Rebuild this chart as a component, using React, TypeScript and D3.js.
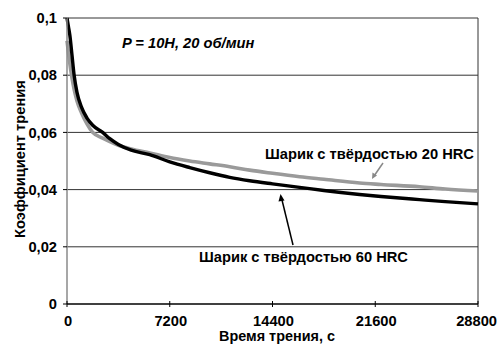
import React from 'react';
import * as d3 from 'd3';

// Friction test, P = 10 N, 20 rpm: coefficient of friction vs. time
const timeSec = [0, 100, 200, 350, 500, 700, 1000, 1400, 1800, 2500, 3000, 3600, 4500, 5800, 7200, 8600, 10000, 11400, 12800, 14400, 16300, 18000, 20500, 22000, 24700, 26500, 28800];
const ball60 = [0.1, 0.097, 0.094, 0.087, 0.08, 0.074, 0.069, 0.065, 0.0625, 0.06, 0.0578, 0.0558, 0.0538, 0.0522, 0.0497, 0.0477, 0.0459, 0.0443, 0.0431, 0.042, 0.0408, 0.0397, 0.0383, 0.0376, 0.0365, 0.0358, 0.035];
const ball20 = [0.092, 0.088, 0.084, 0.079, 0.075, 0.071, 0.067, 0.063, 0.06, 0.058, 0.0568, 0.0555, 0.0542, 0.0528, 0.0512, 0.05, 0.049, 0.048, 0.0468, 0.0457, 0.0445, 0.0436, 0.0423, 0.0418, 0.041, 0.0402, 0.0395];

const yTicks = [0, 0.02, 0.04, 0.06, 0.08, 0.1];
const yTickLabels = ['0', '0,02', '0,04', '0,06', '0,08', '0,1'];
const xTicks = [0, 7200, 14400, 21600, 28800];

const W = 499;
const H = 344;
const left = 67;
const right = 478;
const top = 18;
const bottom = 304;
const font = '"Liberation Sans", Arial, sans-serif';
const fs = 14.7;

export default function App() {
  const x = d3.scaleLinear().domain([0, 28800]).range([left, right]);
  const y = d3.scaleLinear().domain([0, 0.1]).range([bottom, top]);
  const line = d3
    .line<number>()
    .x((_, i) => x(timeSec[i]))
    .y((d) => y(d))
    .curve(d3.curveMonotoneX);

  return (
    <svg width={W} height={H} style={{ position: 'absolute', left: 0, top: 0, background: '#fff' }}>
      {/* horizontal gridlines */}
      {yTicks.slice(1).map((t) => (
        <line key={t} x1={left} x2={right} y1={y(t)} y2={y(t)} stroke="#333" strokeWidth={1} />
      ))}
      {/* right border of the plot area */}
      <line x1={right} x2={right} y1={top} y2={bottom} stroke="#333" strokeWidth={1} />

      {/* series */}
      <path d={line(ball20) ?? ''} fill="none" stroke="#9a9a9a" strokeWidth={3.6} />
      <path d={line(ball60) ?? ''} fill="none" stroke="#000" strokeWidth={3.4} />

      {/* axes */}
      <line x1={left} x2={left} y1={top} y2={bottom} stroke="#8a8a8a" strokeWidth={1.5} />
      <line x1={left} x2={right} y1={bottom} y2={bottom} stroke="#000" strokeWidth={1.5} />
      {yTicks.map((t, i) => (
        <g key={t}>
          <line x1={left - 4} x2={left} y1={y(t)} y2={y(t)} stroke="#000" />
          <text x={57} y={y(t)} dy="0.36em" textAnchor="end" fontFamily={font} fontWeight="bold" fontSize={fs}>
            {yTickLabels[i]}
          </text>
        </g>
      ))}
      {xTicks.map((t, i) => {
        const last = i === xTicks.length - 1;
        return (
          <g key={t}>
            <line x1={x(t)} x2={x(t)} y1={bottom - 3} y2={bottom + 3} stroke="#000" />
            <text
              x={last ? 497 : x(t) + 1}
              y={326}
              textAnchor={last ? 'end' : 'middle'}
              fontFamily={font}
              fontWeight="bold"
              fontSize={fs}
            >
              {t}
            </text>
          </g>
        );
      })}

      {/* axis titles */}
      <text x={277} y={341} textAnchor="middle" fontFamily={font} fontWeight="bold" fontSize={14.4}>
        Время трения, с
      </text>
      <text
        transform={`translate(25,${159}) rotate(-90)`}
        textAnchor="middle"
        fontFamily={font}
        fontSize={fs}
        fontWeight="bold"
      >
        Коэффициент трения
      </text>

      {/* test conditions */}
      <text x={122} y={48} fontFamily={font} fontWeight="bold" fontStyle="italic" fontSize={fs}>
        P = 10H, 20 об/мин
      </text>

      {/* series labels with pointers */}
      <text x={265} y={159} fontFamily={font} fontWeight="bold" fontSize={fs}>
        Шарик с твёрдостью 20 HRC
      </text>
      <line x1={383} y1={163} x2={374} y2={176} stroke="#888" strokeWidth={1.5} />
      <path d="M372,179 L372.5,172.5 L377,175.5 Z" fill="#888" />

      <text x={199} y={262} fontFamily={font} fontWeight="bold" fontSize={fs}>
        Шарик с твёрдостью 60 HRC
      </text>
      <line x1={293} y1={245} x2={282} y2={200} stroke="#000" strokeWidth={1.5} />
      <path d="M280.5,194 L278.5,201.5 L284.5,200.5 Z" fill="#000" />
    </svg>
  );
}
